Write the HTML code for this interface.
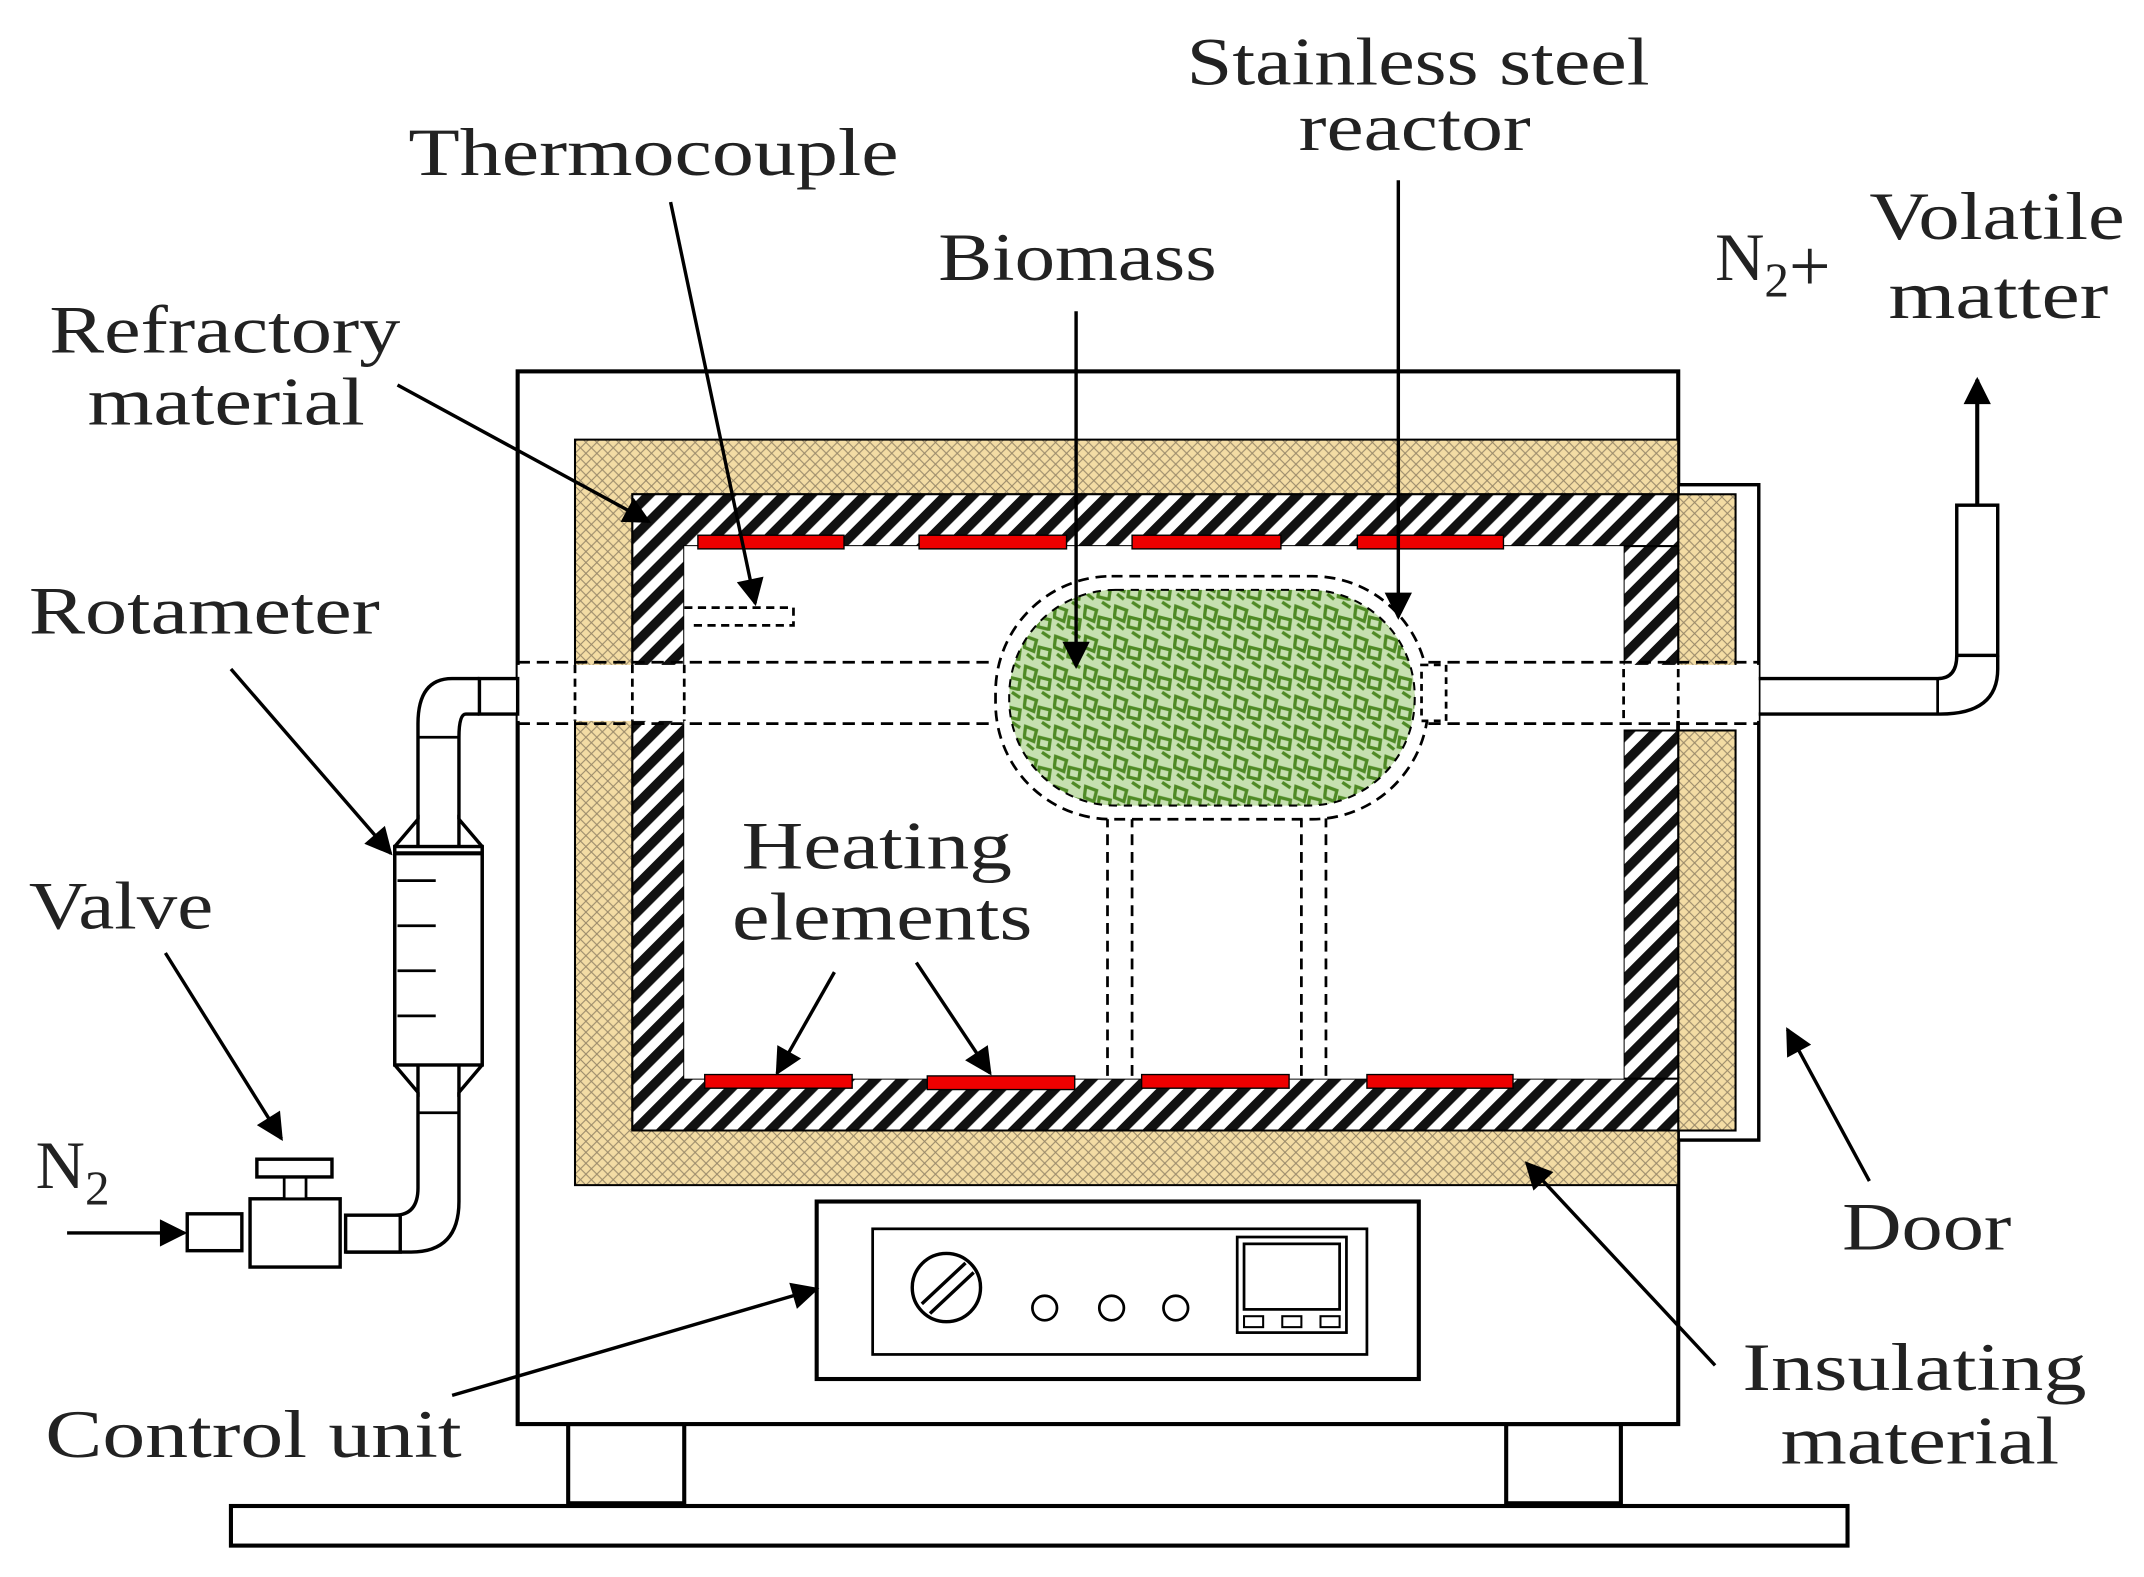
<!DOCTYPE html>
<html><head><meta charset="utf-8"><style>
html,body{margin:0;padding:0;background:#fff;}
svg{display:block;}
text{font-family:"Liberation Serif",serif;fill:#222;}
</style></head><body>
<svg width="2144" height="1577" viewBox="0 0 1568 1155" xmlns="http://www.w3.org/2000/svg">
<defs>
<pattern id="cross" width="8" height="8" patternUnits="userSpaceOnUse">
<rect width="8" height="8" fill="#f3dca4"/>
<path d="M0,0L8,8M8,0L0,8" stroke="#9a8a6a" stroke-width="0.8"/>
</pattern>
<pattern id="diag" width="14" height="14" patternUnits="userSpaceOnUse" patternTransform="rotate(45)">
<rect width="14" height="14" fill="#fff"/>
<rect width="7" height="14" fill="#111"/>
</pattern>
<pattern id="bio" width="22" height="22" patternUnits="userSpaceOnUse">
<rect width="22" height="22" fill="#c6e0b0"/>
<path d="M2,4l8,3l-2,8l-7,-3zM12,12l8,2l-1,7l-8,-2zM14,1l6,4M3,17l5,4" fill="none" stroke="#4f8a25" stroke-width="2.4"/>
</pattern>
<marker id="ar" viewBox="0 0 10 10" refX="9" refY="5" markerWidth="26" markerHeight="20" markerUnits="userSpaceOnUse" orient="auto"><path d="M0,0L10,5L0,10z" fill="#000"/></marker>
</defs>
<!-- base and legs -->
<rect x="168" y="1103" width="1184" height="29" fill="#fff" stroke="#000" stroke-width="3"/>
<rect x="415" y="1043" width="85" height="58" fill="#fff" stroke="#000" stroke-width="3"/>
<rect x="1102" y="1043" width="84" height="58" fill="#fff" stroke="#000" stroke-width="3"/>
<!-- outer box -->
<rect x="378" y="272" width="850" height="771" fill="#fff" stroke="#000" stroke-width="3"/>
<!-- door -->
<rect x="1228" y="355" width="59" height="480" fill="#fff" stroke="#000" stroke-width="2.5"/>
<rect x="1228" y="362" width="42" height="128" fill="url(#cross)" stroke="#000" stroke-width="1.5"/>
<rect x="1228" y="535" width="42" height="293" fill="url(#cross)" stroke="#000" stroke-width="1.5"/>
<!-- insulation -->
<path d="M420,322H1228V362H462V828H1228V868H420Z" fill="url(#cross)" stroke="#000" stroke-width="1.5"/>
<!-- refractory -->
<path d="M462,362H1228V400H500V790H1228V828H462Z" fill="url(#diag)" stroke="#000" stroke-width="1.5"/>
<path d="M1188,400H1228V490H1188ZM1188,535H1228V790H1188Z" fill="url(#diag)" stroke="#000" stroke-width="1.5"/>
<rect x="500" y="400" width="688" height="390" fill="#fff"/>
<rect x="378" y="487" width="909" height="41" fill="#fff"/>
<path d="M378,485H728M378,530H728M1045,485H1287M1045,530H1287" stroke="#000" stroke-width="2" stroke-dasharray="9,5"/>
<path d="M420,487V528M462,487V528M500,487V528M1188,490V530M1228,490V530" stroke="#000" stroke-width="2" stroke-dasharray="6,4"/>
<!-- heating elements -->
<g fill="#e00" stroke="#000" stroke-width="1">
<rect x="510" y="392" width="107" height="10"/><rect x="672" y="392" width="108" height="10"/><rect x="828" y="392" width="109" height="10"/><rect x="993" y="392" width="107" height="10"/>
<rect x="515" y="787" width="108" height="10"/><rect x="678" y="788" width="108" height="10"/><rect x="835" y="787" width="108" height="10"/><rect x="1000" y="787" width="107" height="10"/>
</g>
<!-- supports -->
<path d="M810,598V790M828,598V790M952,598V790M970,598V790" stroke="#000" stroke-width="2" stroke-dasharray="8,5"/>
<!-- reactor -->
<rect x="728" y="422" width="317" height="178" rx="85" fill="#fff" stroke="#000" stroke-width="2" stroke-dasharray="8,5"/>
<rect x="738" y="432" width="297" height="158" rx="78" fill="url(#bio)" stroke="#000" stroke-width="1.5" stroke-dasharray="6,5"/>
<rect x="1040" y="487" width="18" height="41" fill="#fff" stroke="#000" stroke-width="2" stroke-dasharray="5,4"/>
<!-- thermocouple -->
<path d="M500,445H580V458H505" fill="none" stroke="#000" stroke-width="2" stroke-dasharray="6,4"/>
<!-- control unit -->
<rect x="597" y="880" width="441" height="130" fill="#fff" stroke="#000" stroke-width="3"/>
<rect x="638" y="900" width="362" height="92" fill="#fff" stroke="#000" stroke-width="2"/>
<circle cx="692" cy="943" r="25" fill="#fff" stroke="#000" stroke-width="2.5"/>
<path d="M674,955L706,925M680,962L712,932" stroke="#000" stroke-width="2.5"/>
<circle cx="764" cy="958" r="9" fill="#fff" stroke="#000" stroke-width="2"/>
<circle cx="813" cy="958" r="9" fill="#fff" stroke="#000" stroke-width="2"/>
<circle cx="860" cy="958" r="9" fill="#fff" stroke="#000" stroke-width="2"/>
<rect x="905" y="906" width="80" height="70" fill="#fff" stroke="#000" stroke-width="2"/>
<rect x="910" y="911" width="70" height="48" fill="#fff" stroke="#000" stroke-width="2"/>
<rect x="910" y="964" width="14" height="8" fill="none" stroke="#000" stroke-width="1.5"/><rect x="938" y="964" width="14" height="8" fill="none" stroke="#000" stroke-width="1.5"/><rect x="966" y="964" width="14" height="8" fill="none" stroke="#000" stroke-width="1.5"/>
<!-- left pipe -->
<path d="M378,497H350V523H378Z" fill="#fff" stroke="#000" stroke-width="2.5"/>
<path d="M350,497H330Q305,497 305,530V600M350,523H340Q335,523 335,540V600" fill="none" stroke="#000" stroke-width="2.5"/>
<path d="M305,540H335" stroke="#000" stroke-width="2"/>
<path d="M305,600L288,620V780L305,800ZM335,600L352,620V780L335,800Z" fill="#fff" stroke="#000" stroke-width="2.5"/>
<rect x="288" y="620" width="64" height="160" fill="#fff" stroke="#000" stroke-width="2.5"/>
<path d="M288,625H352" stroke="#000" stroke-width="3"/>
<path d="M290,645H318M290,678H318M290,711H318M290,744H318" stroke="#000" stroke-width="2"/>
<path d="M305,800V870Q305,890 288,890H252M335,800V880Q335,917 300,917H252" fill="none" stroke="#000" stroke-width="2.5"/>
<path d="M305,815H335" stroke="#000" stroke-width="2"/>
<rect x="252" y="890" width="40" height="27" fill="#fff" stroke="#000" stroke-width="2.5"/>
<!-- valve -->
<rect x="182" y="878" width="66" height="50" fill="#fff" stroke="#000" stroke-width="2.5"/>
<rect x="207" y="862" width="16" height="16" fill="#fff" stroke="#000" stroke-width="2"/>
<rect x="187" y="849" width="55" height="13" fill="#fff" stroke="#000" stroke-width="2.5"/>
<rect x="136" y="889" width="40" height="27" fill="#fff" stroke="#000" stroke-width="2.5"/>
<line x1="48" y1="903" x2="134" y2="903" stroke="#000" stroke-width="2.5" marker-end="url(#ar)"/>
<!-- right outlet -->
<path d="M1287,497H1418Q1432,497 1432,480V480M1287,523H1420Q1462,523 1462,490V480" fill="none" stroke="#000" stroke-width="2.5"/>
<path d="M1418,497V523" stroke="#000" stroke-width="2"/>
<rect x="1432" y="370" width="30" height="110" fill="#fff" stroke="#000" stroke-width="2.5"/>
<line x1="1447" y1="370" x2="1447" y2="278" stroke="#000" stroke-width="3" marker-end="url(#ar)"/>
<!-- leader arrows -->
<g stroke="#000" stroke-width="2.5" fill="none" marker-end="url(#ar)">
<line x1="490" y1="148" x2="552" y2="442"/>
<line x1="290" y1="282" x2="474" y2="382"/>
<line x1="787" y1="228" x2="787" y2="488"/>
<line x1="1023" y1="132" x2="1023" y2="452"/>
<line x1="168" y1="490" x2="285" y2="625"/>
<line x1="120" y1="698" x2="205" y2="834"/>
<line x1="610" y1="712" x2="568" y2="786"/>
<line x1="670" y1="705" x2="724" y2="786"/>
<line x1="1368" y1="865" x2="1308" y2="754"/>
<line x1="1255" y1="1000" x2="1117" y2="852"/>
<line x1="330" y1="1022" x2="597" y2="944"/>
</g>
<!-- labels -->
<g font-size="50">
<text x="298" y="128" textLength="359" lengthAdjust="spacingAndGlyphs">Thermocouple</text>
<text x="868" y="62" textLength="339" lengthAdjust="spacingAndGlyphs">Stainless steel</text>
<text x="950" y="110" textLength="170" lengthAdjust="spacingAndGlyphs">reactor</text>
<text x="686" y="205" textLength="204" lengthAdjust="spacingAndGlyphs">Biomass</text>
<text x="35" y="258" textLength="257" lengthAdjust="spacingAndGlyphs">Refractory</text>
<text x="63" y="311" textLength="203" lengthAdjust="spacingAndGlyphs">material</text>
<text x="20" y="464" textLength="257" lengthAdjust="spacingAndGlyphs">Rotameter</text>
<text x="20" y="680" textLength="135" lengthAdjust="spacingAndGlyphs">Valve</text>
<text x="542" y="636" textLength="198" lengthAdjust="spacingAndGlyphs">Heating</text>
<text x="535" y="688" textLength="220" lengthAdjust="spacingAndGlyphs">elements</text>
<text x="1368" y="175" textLength="187" lengthAdjust="spacingAndGlyphs">Volatile</text>
<text x="1382" y="233" textLength="161" lengthAdjust="spacingAndGlyphs">matter</text>
<text x="1255" y="205">N<tspan font-size="36" dy="12">2</tspan><tspan dy="-4" font-size="54">+</tspan></text>
<text x="25" y="870">N<tspan font-size="36" dy="12">2</tspan></text>
<text x="1348" y="915" textLength="124" lengthAdjust="spacingAndGlyphs">Door</text>
<text x="1275" y="1018" textLength="252" lengthAdjust="spacingAndGlyphs">Insulating</text>
<text x="1303" y="1072" textLength="204" lengthAdjust="spacingAndGlyphs">material</text>
<text x="32" y="1067" textLength="305" lengthAdjust="spacingAndGlyphs">Control unit</text>
</g>
</svg>
</body></html>
